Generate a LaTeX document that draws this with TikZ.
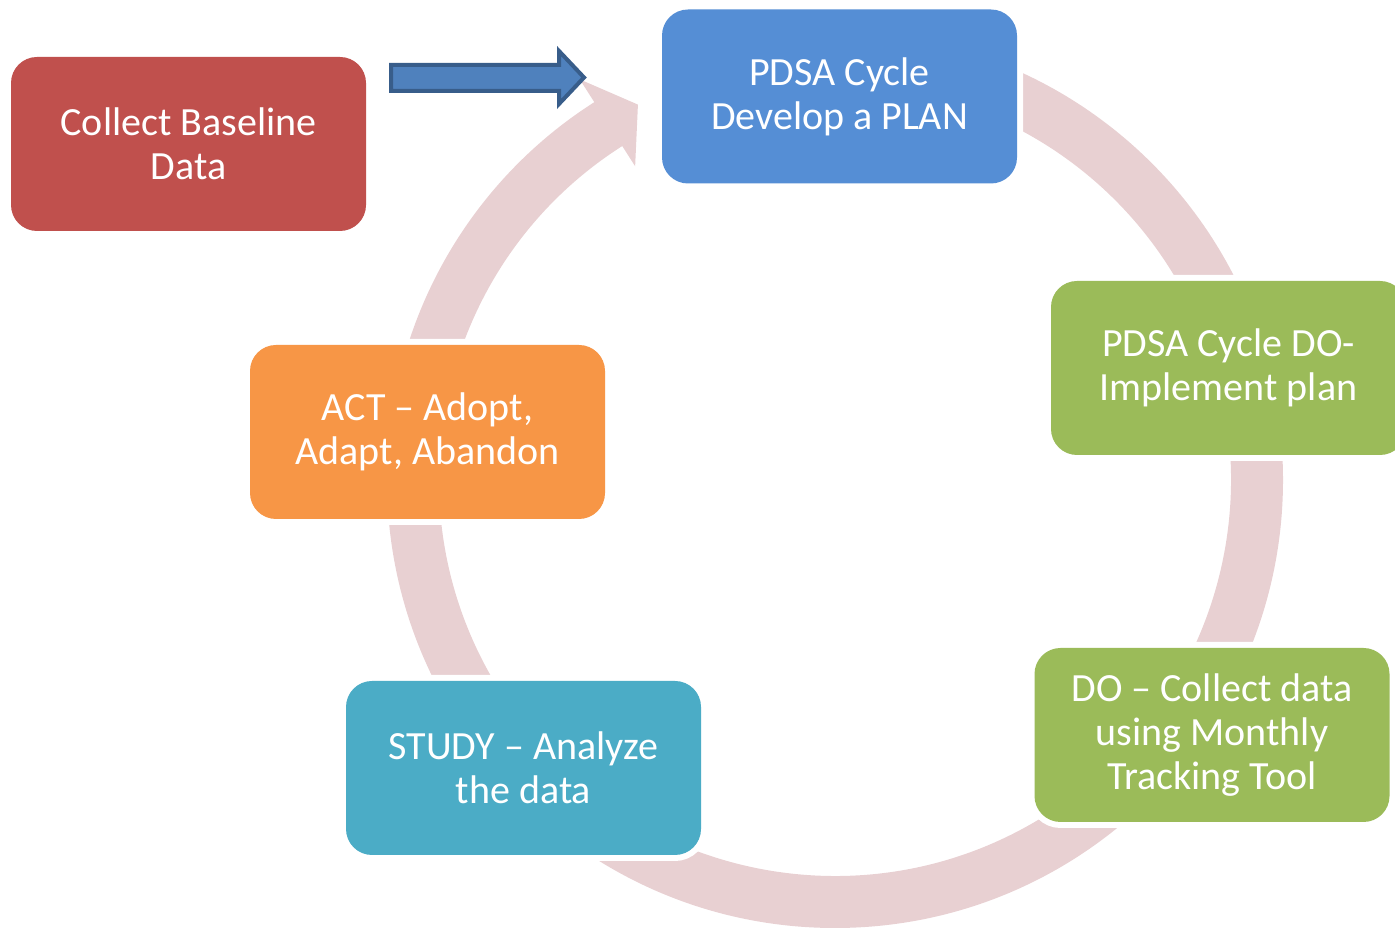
\documentclass[tikz,border=0pt]{standalone}
\usepackage{fontspec}
\setmainfont{Carlito}
\definecolor{ringc}{HTML}{E8D0D2}
\definecolor{redc}{HTML}{C0504D}
\definecolor{bluec}{HTML}{558ED5}
\definecolor{greenc}{HTML}{9BBB59}
\definecolor{orangec}{HTML}{F79646}
\definecolor{tealc}{HTML}{4BACC6}
\definecolor{arrowfill}{HTML}{4F81BD}
\definecolor{arrowline}{HTML}{385D8A}
\begin{document}
\begin{tikzpicture}[x=0.5pt,y=0.5pt,
  box/.style={rounded corners=13pt, minimum width=177.5pt, minimum height=87pt,
    inner sep=0pt, text=white, align=center,
    font=\fontsize{20pt}{22pt}\selectfont,
    preaction={draw=white, line width=6pt}},
  ring/.style={fill=ringc},
  barrow/.style={fill=arrowfill, draw=arrowline, line width=2pt, line join=miter}]
\useasboundingbox (0,0) rectangle (1395,930);
\coordinate (c) at (835,450);
% cycle ring with arrow head
\begin{scope}[shift={(c)}]
\fill[ring] (450:448) arc[start angle=450, end angle=122.5, radius=448]
  -- (122.5:475) -- (117.7:424) -- (122.5:372) -- (122.5:396)
  arc[start angle=122.5, end angle=450, radius=396] -- cycle;
\end{scope}
% boxes
\node[box, fill=redc] (base) at (188.5,786) {Collect Baseline\\Data};
\node[box, fill=bluec] (plan) at (839.5,833.5) {PDSA Cycle\\Develop a PLAN};
\node[box, fill=greenc] (do1) at (1228.5,562) {PDSA Cycle DO-\\Implement plan};
\node[box, fill=greenc] (do2) at (1212,195) {DO – Collect data\\using Monthly\\Tracking Tool};
\node[box, fill=tealc] (study) at (523.5,162) {STUDY – Analyze\\the data};
\node[box, fill=orangec] (act) at (427.5,498) {ACT – Adopt,\\Adapt, Abandon};
% block arrow
\draw[barrow] (391,839) -- (559,839) -- (559,826) -- (584,852.5) -- (559,879) -- (559,865) -- (391,865) -- cycle;
\end{tikzpicture}
\end{document}
